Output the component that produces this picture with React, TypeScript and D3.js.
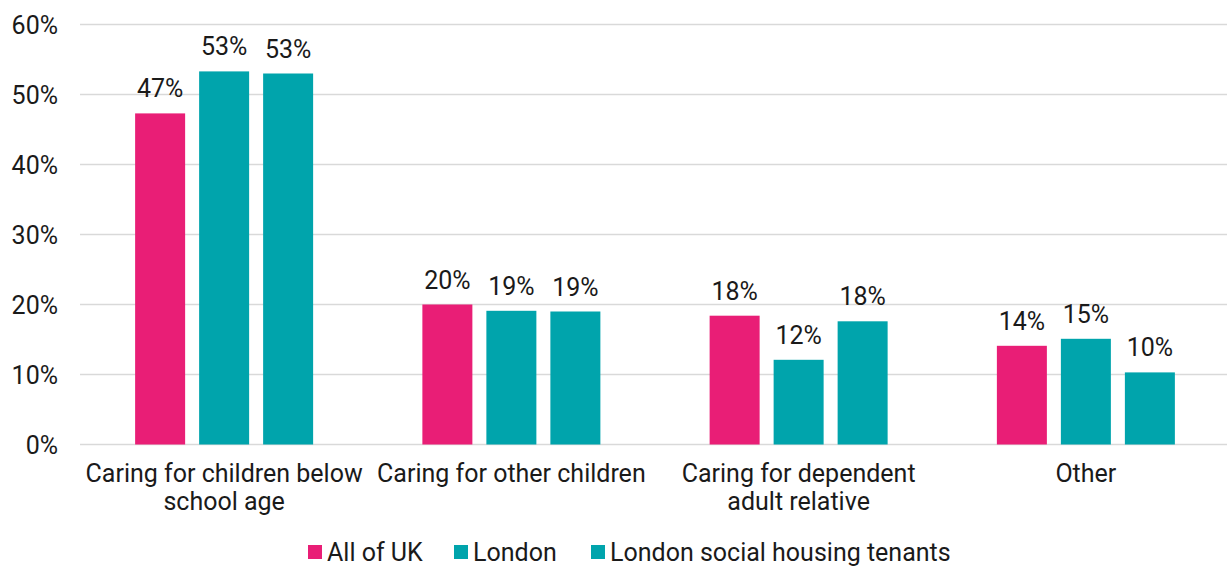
import React from "react";
import * as d3 from "d3";

const categories = [
  ["Caring for children below", "school age"],
  ["Caring for other children"],
  ["Caring for dependent", "adult relative"],
  ["Other"],
];
const seriesNames = ["All of UK", "London", "London social housing tenants"];
const seriesColors = ["#E91E76", "#00A4AC", "#00A4AC"];
const allUK = [47.3, 20.0, 18.4, 14.1];
const london = [53.3, 19.1, 12.1, 15.1];
const londonSocial = [53.0, 19.0, 17.6, 10.3];
const labelsAllUK = ["47%", "20%", "18%", "14%"];
const labelsLondon = ["53%", "19%", "12%", "15%"];
const labelsSocial = ["53%", "19%", "18%", "10%"];
const yTicks = [0, 10, 20, 30, 40, 50, 60];

const W = 1227;
const H = 566;
const margin = { left: 80, top: 24.5, bottom: 121.5 };
const FONT = "Roboto, 'Noto Sans', sans-serif";
const FS = 25;

export default function App() {
  const series = [allUK, london, londonSocial];
  const labels = [labelsAllUK, labelsLondon, labelsSocial];
  const x0 = d3
    .scaleBand<number>()
    .domain(categories.map((_, i) => i))
    .range([80.5, 1229.5]);
  const y = d3
    .scaleLinear()
    .domain([0, 60])
    .range([H - margin.bottom, margin.top]);
  const barW = 50;
  const step = 64;

  return (
    <svg
      width={W}
      height={H}
      style={{ position: "absolute", left: 0, top: 0, background: "#fff" }}
      fontFamily={FONT}
    >
      {yTicks.map((t) => (
        <g key={t}>
          <line
            x1={margin.left}
            x2={W}
            y1={y(t)}
            y2={y(t)}
            stroke="#d9d9d9"
            strokeWidth={1.5}
          />
          <text
            x={58}
            y={y(t)}
            dy="0.36em"
            textAnchor="end"
            fontSize={FS}
            fill="#1a1a1a"
          >
            {t}%
          </text>
        </g>
      ))}
      {categories.map((cat, ci) => {
        const cx = (x0(ci) as number) + x0.bandwidth() / 2;
        return (
          <g key={ci}>
            {series.map((s, si) => {
              const bx = cx + (si - 1) * step - barW / 2;
              return (
                <g key={si}>
                  <rect
                    x={bx}
                    y={y(s[ci])}
                    width={barW}
                    height={y(0) - y(s[ci])}
                    fill={seriesColors[si]}
                  />
                  <text
                    x={bx + barW / 2}
                    y={y(s[ci]) - 16}
                    textAnchor="middle"
                    fontSize={FS}
                    fill="#1a1a1a"
                  >
                    {labels[si][ci]}
                  </text>
                </g>
              );
            })}
            {cat.map((line, li) => (
              <text
                key={li}
                x={cx}
                y={482 + li * 28}
                textAnchor="middle"
                fontSize={FS}
                fill="#1a1a1a"
              >
                {line}
              </text>
            ))}
          </g>
        );
      })}
      {(() => {
        const starts = [308, 454, 591];
        return seriesNames.map((n, i) => (
          <g key={n}>
            <rect x={starts[i]} y={545} width={14} height={14} fill={seriesColors[i]} />
            <text x={starts[i] + 19} y={561} fontSize={FS} fill="#1a1a1a">
              {n}
            </text>
          </g>
        ));
      })()}
    </svg>
  );
}
